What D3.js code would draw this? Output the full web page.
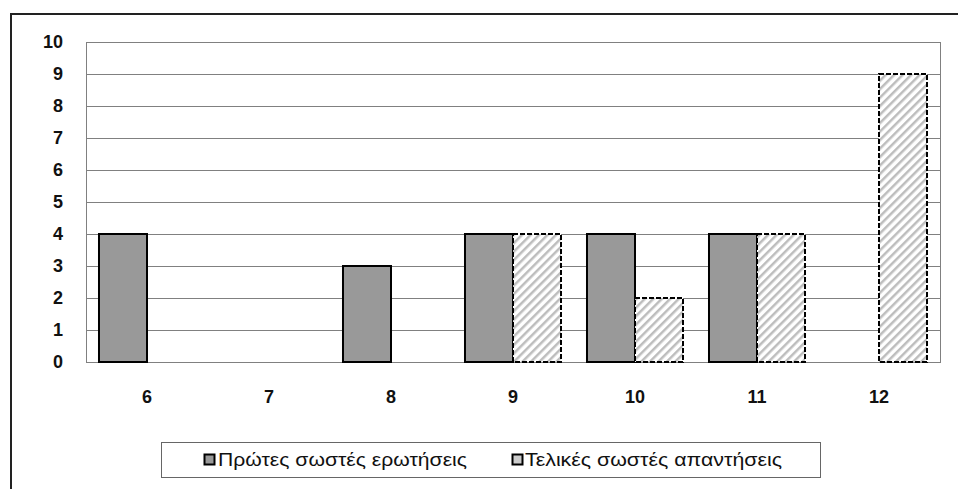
<!DOCTYPE html>
<html><head><meta charset="utf-8">
<script src="https://cdn.jsdelivr.net/npm/d3@7"></script>
<style>body{margin:0;background:#fff}svg{display:block}</style>
</head><body>
<svg id="c" width="958" height="489"></svg>
<script>
const categories = ["6","7","8","9","10","11","12"];
const seriesNames = ["Πρώτες σωστές ερωτήσεις","Τελικές σωστές απαντήσεις"];
const firstCorrect = [4,0,3,4,4,4,0];
const finalCorrect = [0,0,0,4,2,4,9];
const yTicks = [0,1,2,3,4,5,6,7,8,9,10];

const svg = d3.select("#c");
const defs = svg.append("defs");
const pat = defs.append("pattern").attr("id","hatch").attr("patternUnits","userSpaceOnUse")
  .attr("width",6).attr("height",6).attr("patternTransform","rotate(45)");
pat.append("rect").attr("width",6).attr("height",6).attr("fill","#fff");
pat.append("rect").attr("width",2.5).attr("height",6).attr("fill","#bdbdbd");

// outer frame
svg.append("path").attr("d","M11,489 V14 H958").attr("fill","none").attr("stroke","#222").attr("stroke-width",2);

const m = {l:86, r:940, t:42, b:362};
const x = d3.scaleBand().domain(categories).range([m.l,m.r]).paddingInner(0.213).paddingOuter(0.1065);
const xs = d3.scaleBand().domain([0,1]).range([0,x.bandwidth()]);
const y = d3.scaleLinear().domain([0,10]).range([m.b,m.t]);

// gridlines
svg.append("g").selectAll("line").data(yTicks).join("line")
  .attr("x1",m.l).attr("x2",m.r).attr("y1",d=>y(d)).attr("y2",d=>y(d))
  .attr("stroke","#808080").attr("stroke-width",1).attr("shape-rendering","crispEdges");
svg.append("rect").attr("x",m.l).attr("y",m.t).attr("width",m.r-m.l).attr("height",m.b-m.t)
  .attr("fill","none").attr("stroke","#808080").attr("shape-rendering","crispEdges");

const font = "Liberation Sans, Arial, sans-serif";
// y axis labels
const ya = svg.append("g").attr("transform",`translate(${m.l},0)`)
  .call(d3.axisLeft(y).tickValues(yTicks).tickSize(0).tickPadding(23));
ya.select(".domain").remove();
ya.selectAll("text").attr("font-family",font).attr("font-size",18)
  .attr("font-weight","bold").attr("fill","#111");

// x axis labels
const xa = svg.append("g").attr("transform",`translate(0,${m.b})`)
  .call(d3.axisBottom(x).tickSize(0).tickPadding(28));
xa.select(".domain").remove();
xa.selectAll("text").attr("font-family",font).attr("font-size",18)
  .attr("font-weight","bold").attr("fill","#111");

// bars
const data = categories.map((c,i)=>({c, v:[firstCorrect[i], finalCorrect[i]]}));
data.forEach(d=>{
  d.v.forEach((val,s)=>{
    if(!val) return;
    const r = svg.append("rect")
      .attr("x",x(d.c)+xs(s)).attr("width",xs.bandwidth())
      .attr("y",y(val)).attr("height",y(0)-y(val))
      .attr("stroke","#000").attr("stroke-width",2);
    if(s===0) r.attr("fill","#999999");
    else r.attr("fill","url(#hatch)").attr("stroke-dasharray","5,2");
  });
});

// legend
const lg = svg.append("g");
lg.append("rect").attr("x",161.5).attr("y",442.5).attr("width",659).attr("height",35)
  .attr("fill","#fff").attr("stroke","#666");
const items = [{x:204, tx:218, w:249, name:seriesNames[0], s:0},{x:512, tx:525, w:257, name:seriesNames[1], s:1}];
items.forEach(it=>{
  lg.append("rect").attr("x",it.x+0.5).attr("y",454.5).attr("width",10).attr("height",10)
    .attr("fill",it.s===0?"#999":"#ccc").attr("stroke","#000").attr("stroke-width",2);
  lg.append("text").attr("x",it.tx).attr("y",466).text(it.name)
    .attr("textLength",it.w).attr("lengthAdjust","spacingAndGlyphs")
    .attr("font-family",font).attr("font-size",19).attr("fill","#111");
});
</script>
</body></html>
